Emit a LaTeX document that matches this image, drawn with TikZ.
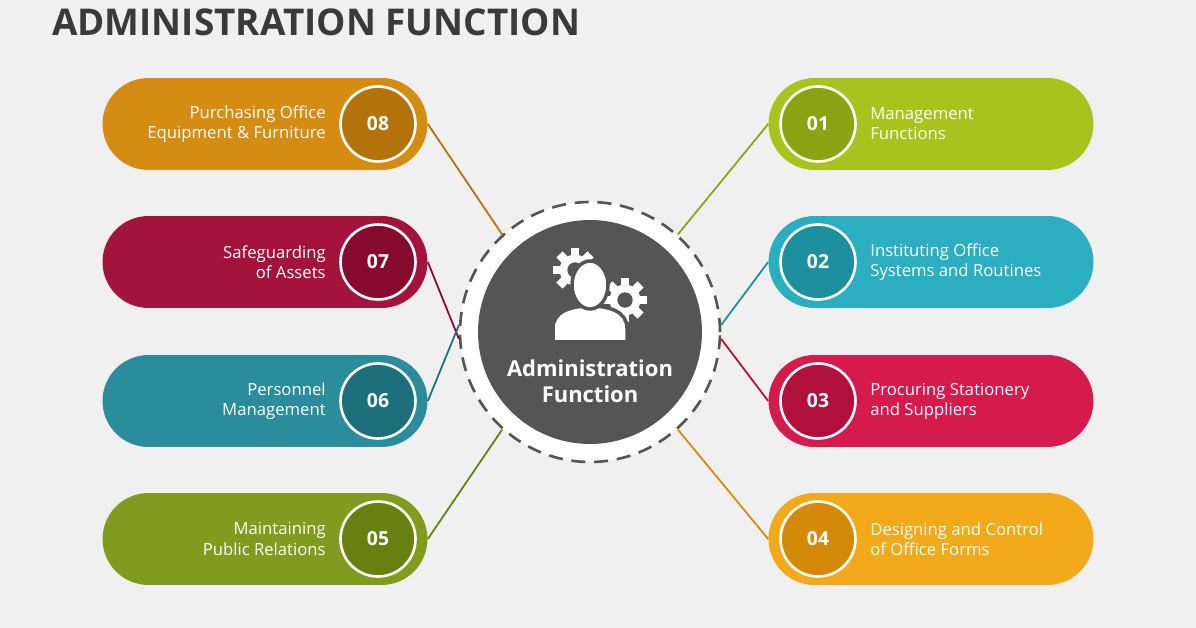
\documentclass[tikz,border=0pt]{standalone}
\usepackage{fontspec}
\setmainfont{Open Sans}
\usetikzlibrary{positioning}
\definecolor{BgGray}{HTML}{F0F0F0}
\definecolor{TitleGray}{HTML}{3A3A3A}
\definecolor{CoreGray}{HTML}{555555}
\definecolor{PillA}{HTML}{A9C31E}\definecolor{DarkA}{HTML}{8CA314}
\definecolor{PillB}{HTML}{2AAEC0}\definecolor{DarkB}{HTML}{1E8F9F}
\definecolor{PillC}{HTML}{D51A4C}\definecolor{DarkC}{HTML}{B0103A}
\definecolor{PillD}{HTML}{F2A91A}\definecolor{DarkD}{HTML}{D48A08}
\definecolor{PillE}{HTML}{809B1E}\definecolor{DarkE}{HTML}{687F12}
\definecolor{PillF}{HTML}{2B8C9B}\definecolor{DarkF}{HTML}{1E6F7C}
\definecolor{PillG}{HTML}{A3133C}\definecolor{DarkG}{HTML}{850A2D}
\definecolor{PillH}{HTML}{D48C12}\definecolor{DarkH}{HTML}{B3720A}
\tikzset{
	pill/.style={rectangle, rounded corners=0.92cm, minimum width=6.5cm, minimum height=1.84cm, fill=#1},
	num/.style={circle, minimum size=1.5cm, fill=#1, draw=white, line width=1.5pt, text=white, font=\bfseries\fontsize{11}{13}\selectfont},
	lbl/.style={text=white, font=\fontsize{9.5}{11.5}\selectfont, inner sep=0pt},
	link/.style={draw=#1, line width=1pt},
}
\newcommand{\gearicon}[3]{% x, y, radius
	\fill[white] (#1,#2) circle (#3*0.7);
	\foreach \a in {0,45,...,315}
		\fill[white, rotate around={\a:(#1,#2)}] ($(#1,#2)+(-#3*0.2,0)$) rectangle ($(#1,#2)+(#3*0.2,#3)$);
	\fill[CoreGray] (#1,#2) circle (#3*0.35);
}
\usetikzlibrary{calc}
\begin{document}
\begin{tikzpicture}[x=0.02cm, y=-0.02cm]
\fill[BgGray] (0,0) rectangle (1196,628);
\useasboundingbox (0,0) rectangle (1196,628);

\node[anchor=west, text=TitleGray, font=\bfseries\fontsize{21}{24}\selectfont] (title) at (46,22) {ADMINISTRATION FUNCTION};

% centre
\node[circle, minimum size=5.2cm, fill=white, draw=CoreGray, dashed, line width=1.5pt, dash pattern=on 8pt off 5pt] (c) at (590,332) {};
\node[circle, minimum size=4.48cm, fill=CoreGray] (core) at (590,332) {};
\gearicon{575}{270}{22}
\gearicon{625}{300}{22}
\fill[white, draw=CoreGray, line width=2pt] (553,342) -- (553,328) .. controls (553,312) and (570,306) .. (590,306) .. controls (610,306) and (627,312) .. (627,328) -- (627,342) -- cycle;
\fill[white, draw=CoreGray, line width=2pt] (590,285) ellipse (18 and 24);
\node[text=white, align=center, font=\bfseries\fontsize{12.5}{15}\selectfont] (ctext) at (590,381) {Administration\\Function};

% left side
\node[pill=PillH] (p8) at (265,124) {};
\node[pill=PillG] (p7) at (265,262) {};
\node[pill=PillF] (p6) at (265,401) {};
\node[pill=PillE] (p5) at (265,539) {};
\node[num=DarkH] (n8) at (378,124) {08};
\node[num=DarkG] (n7) at (378,262) {07};
\node[num=DarkF] (n6) at (378,401) {06};
\node[num=DarkE] (n5) at (378,539) {05};
\node[lbl, anchor=east, align=right] (t8) at (326,124) {Purchasing Office\\Equipment \& Furniture};
\node[lbl, anchor=east, align=right] (t7) at (326,262) {Safeguarding\\of Assets};
\node[lbl, anchor=east, align=right] (t6) at (326,401) {Personnel\\Management};
\node[lbl, anchor=east, align=right] (t5) at (326,539) {Maintaining\\Public Relations};

% right side
\node[pill=PillA] (p1) at (931,124) {};
\node[pill=PillB] (p2) at (931,262) {};
\node[pill=PillC] (p3) at (931,401) {};
\node[pill=PillD] (p4) at (931,539) {};
\node[num=DarkA] (n1) at (818,124) {01};
\node[num=DarkB] (n2) at (818,262) {02};
\node[num=DarkC] (n3) at (818,401) {03};
\node[num=DarkD] (n4) at (818,539) {04};
\node[lbl, anchor=west, align=left] (t1) at (870,124) {Management\\Functions};
\node[lbl, anchor=west, align=left] (t2) at (870,262) {Instituting Office\\Systems and Routines};
\node[lbl, anchor=west, align=left] (t3) at (870,401) {Procuring Stationery\\and Suppliers};
\node[lbl, anchor=west, align=left] (t4) at (870,539) {Designing and Control\\of Office Forms};

% links
\draw[link=DarkH] (p8.east) -- (c.132);
\draw[link=DarkG] (p7.east) -- (c.183);
\draw[link=DarkF] (p6.east) -- (c.177);
\draw[link=DarkE] (p5.east) -- (c.228);
\draw[link=DarkA] (p1.west) -- (c.48);
\draw[link=DarkB] (p2.west) -- (c.3);
\draw[link=DarkC] (p3.west) -- (c.-3);
\draw[link=DarkD] (p4.west) -- (c.-48);
\end{tikzpicture}
\end{document}
